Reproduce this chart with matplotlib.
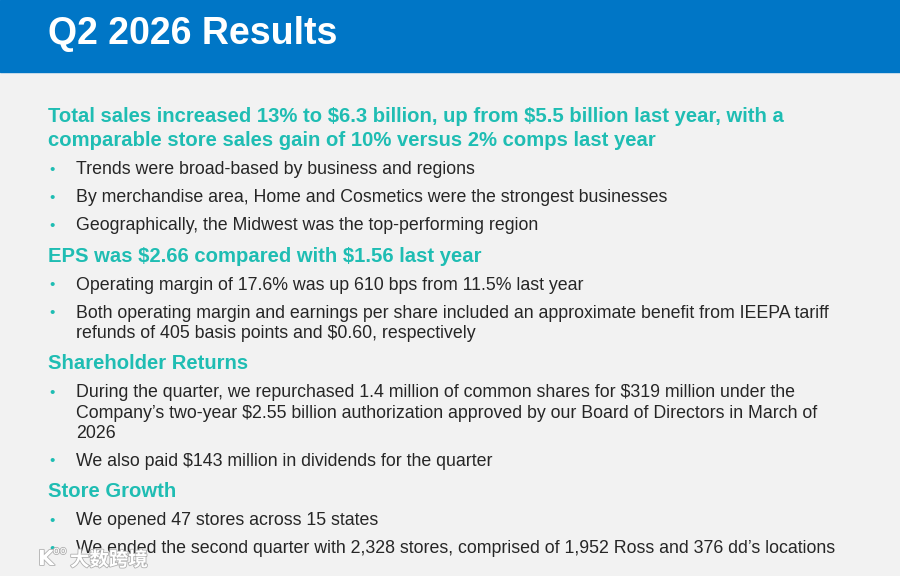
import matplotlib
matplotlib.use("Agg")
import matplotlib.pyplot as plt
import matplotlib.patheffects as pe
from matplotlib.patches import Rectangle

plt.rcParams["text.parse_math"] = False

# slide content
title = "Q2 2026 Results"
headings = [
    ["Total sales increased 13% to $6.3 billion, up from $5.5 billion last year, with a",
     "comparable store sales gain of 10% versus 2% comps last year"],
    ["EPS was $2.66 compared with $1.56 last year"],
    ["Shareholder Returns"],
    ["Store Growth"],
]
bullets = [
    [["Trends were broad-based by business and regions"],
     ["By merchandise area, Home and Cosmetics were the strongest businesses"],
     ["Geographically, the Midwest was the top-performing region"]],
    [["Operating margin of 17.6% was up 610 bps from 11.5% last year"],
     ["Both operating margin and earnings per share included an approximate benefit from IEEPA tariff",
      "refunds of 405 basis points and $0.60, respectively"]],
    [["During the quarter, we repurchased 1.4 million of common shares for $319 million under the",
      "Company\u2019s two-year $2.55 billion authorization approved by our Board of Directors in March of",
      "2026"],
     ["We also paid $143 million in dividends for the quarter"]],
    [["We opened 47 stores across 15 states"],
     ["We ended the second quarter with 2,328 stores, comprised of 1,952 Ross and 376 dd\u2019s locations"]],
]
watermark = "大数跨境"

BLUE = "#0076C6"
TEAL = "#1FBDB3"
DARK = "#262626"
BG = "#F2F2F2"

fig = plt.figure(figsize=(9, 5.76), dpi=100)
fig.patch.set_facecolor(BG)
ax = fig.add_axes([0, 0, 1, 1])
ax.set_xlim(0, 900)
ax.set_ylim(576, 0)
ax.axis("off")

ax.add_patch(Rectangle((0, 0), 900, 72, color=BLUE, zorder=1))
ax.text(48, 34, title, color="white", fontsize=27, fontweight="bold",
        family="Liberation Sans", va="center", zorder=2)

y = 117
for i, (head, items) in enumerate(zip(headings, bullets)):
    if i > 0:
        y += 30
    for j, line in enumerate(head):
        if j > 0:
            y += 24
        ax.text(48, y, line, color=TEAL, fontsize=14.6, fontweight="bold",
                family="Liberation Sans", va="center")
    for k, item in enumerate(items):
        y += 29 if k == 0 else 28
        ax.text(49, y, "\u2022", color=TEAL, fontsize=11, va="center",
                family="Liberation Sans")
        for m, line in enumerate(item):
            if m > 0:
                y += 20.5
            ax.text(76, y, line, color=DARK, fontsize=12.75,
                    family="Liberation Sans", va="center")

# faint watermark in the lower-left corner
halo = [pe.withStroke(linewidth=1.2, foreground="#B0B0B0")]
ax.text(38, 559, "K", color="white", fontsize=15, fontweight="bold",
        family="DejaVu Sans", va="center", path_effects=halo)
ax.text(53, 551, "oo", color="white", fontsize=8,
        family="DejaVu Sans", va="center", path_effects=halo)
ax.text(70, 560, watermark, color="white", fontsize=14,
        family=["Noto Sans CJK SC", "DejaVu Sans"], fontweight="bold",
        va="center", path_effects=halo)

fig.savefig("out.png", dpi=100, facecolor=BG)
